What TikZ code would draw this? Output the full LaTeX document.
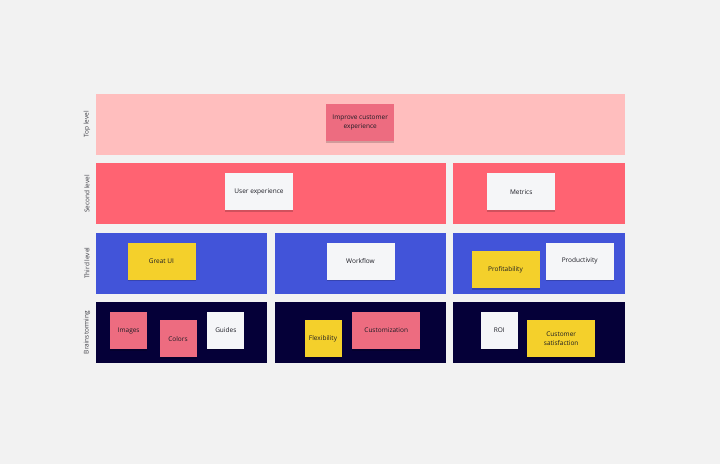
\documentclass[tikz,border=0pt]{standalone}
\usepackage{fontspec}
\setmainfont{Open Sans}
\usetikzlibrary{positioning, shadows}
\definecolor{BoardGrey}{RGB}{242, 242, 242}
\definecolor{LevelTop}{RGB}{255, 190, 190}
\definecolor{LevelSecond}{RGB}{255, 99, 114}
\definecolor{LevelThird}{RGB}{66, 84, 217}
\definecolor{LevelBrain}{RGB}{5, 0, 56}
\definecolor{NotePink}{RGB}{237, 108, 128}
\definecolor{NoteYellow}{RGB}{244, 208, 43}
\definecolor{NoteWhite}{RGB}{245, 246, 248}
\definecolor{InkDark}{RGB}{28, 28, 36}

\tikzset{
    band/.style={inner sep=0pt, minimum height=61pt},
    note/.style={inner sep=1pt, minimum height=37pt, minimum width=68pt, align=center,
        text=InkDark, font=\fontsize{6.5}{9}\selectfont,
        drop shadow={shadow xshift=0pt, shadow yshift=-1.5pt, opacity=0.18, fill=black}},
    square/.style={note, minimum width=37pt},
    rowlabel/.style={rotate=90, text=InkDark!85, font=\fontsize{6.5}{8}\selectfont}
}

\begin{document}
\begin{tikzpicture}[x=1pt, y=-1pt]

        % --- BOARD ---
        \fill[BoardGrey] (0,0) rectangle (720,464);
        \useasboundingbox (0,0) rectangle (720,464);

        % --- LEVEL BANDS ---
        \node[band, fill=LevelTop, minimum width=529pt] (top) at (360.5, 124.5) {};
        \node[band, fill=LevelSecond, minimum width=350pt] (secA) at (271, 193.8) {};
        \node[band, fill=LevelSecond, minimum width=172pt] (secB) at (539, 193.8) {};
        \node[band, fill=LevelThird, minimum width=171pt] (thrA) at (181.5, 263.1) {};
        \node[band, fill=LevelThird, minimum width=171pt] (thrB) at (360.5, 263.1) {};
        \node[band, fill=LevelThird, minimum width=172pt] (thrC) at (539, 263.1) {};
        \node[band, fill=LevelBrain, minimum width=171pt] (brnA) at (181.5, 332.4) {};
        \node[band, fill=LevelBrain, minimum width=171pt] (brnB) at (360.5, 332.4) {};
        \node[band, fill=LevelBrain, minimum width=172pt] (brnC) at (539, 332.4) {};

        % Row labels
        \node[rowlabel] (lblTop) at (87, 124.5) {Top level};
        \node[rowlabel] (lblSec) at (87, 193.8) {Second level};
        \node[rowlabel] (lblThr) at (87, 263.1) {Third level};
        \node[rowlabel] (lblBrn) at (87, 332.4) {Brainstorming};

        % --- STICKY NOTES ---
        \node[note, fill=NotePink] (improve) at (360.2, 122.5) {Improve customer\\experience};

        \node[note, fill=NoteWhite] (userexp) at (259, 191.8) {User experience};
        \node[note, fill=NoteWhite] (metrics) at (521.2, 191.7) {Metrics};

        \node[note, fill=NoteYellow] (greatui) at (161.5, 261) {Great UI};
        \node[note, fill=NoteWhite] (workflow) at (360.5, 261) {Workflow};
        \node[note, fill=NoteYellow] (profit) at (505.5, 269.7) {Profitability};
        \node[note, fill=NoteWhite] (product) at (579.7, 261.3) {Productivity};

        \node[square, fill=NotePink] (images) at (128.7, 330.7) {Images};
        \node[square, fill=NotePink] (colors) at (178, 338.7) {Colors};
        \node[square, fill=NoteWhite] (guides) at (225.8, 330.3) {Guides};
        \node[square, fill=NoteYellow] (flex) at (323, 338.7) {Flexibility};
        \node[note, fill=NotePink] (custom) at (386.2, 330.5) {Customization};
        \node[square, fill=NoteWhite] (roi) at (499.2, 330.3) {ROI};
        \node[note, fill=NoteYellow] (custsat) at (561.2, 338.7) {Customer\\satisfaction};

    \end{tikzpicture}
\end{document}
